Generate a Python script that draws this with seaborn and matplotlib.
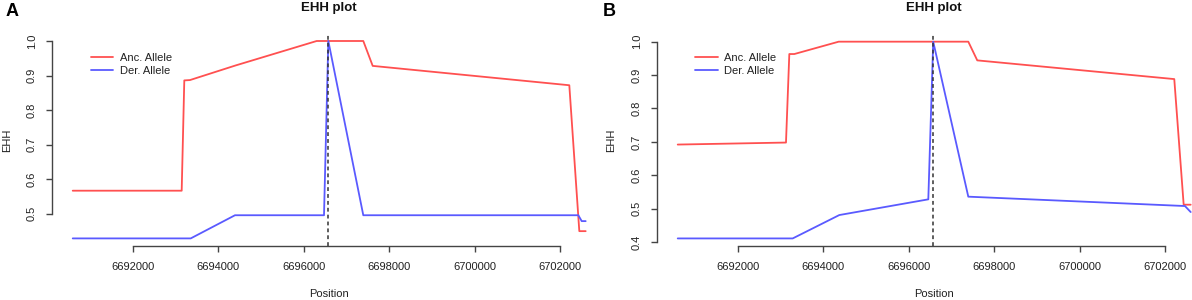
import matplotlib
matplotlib.use("Agg")
import matplotlib.pyplot as plt
import seaborn as sns
import pandas as pd

# ---- data ----
core_pos = 6696576
x_ticks = [6692000, 6694000, 6696000, 6698000, 6700000, 6702000]

a_anc_pos = [6690597, 6693146, 6693207, 6693340, 6694400, 6696304, 6697394, 6697614, 6702213, 6702447, 6702596]
a_anc_ehh = [0.567, 0.567, 0.886, 0.887, 0.929, 1.0, 1.0, 0.928, 0.872, 0.450, 0.450]
a_der_pos = [6690597, 6693357, 6694393, 6696475, 6696576, 6697394, 6702424, 6702503, 6702596]
a_der_ehh = [0.429, 0.429, 0.496, 0.496, 1.0, 0.496, 0.496, 0.479, 0.479]
a_y_ticks = [0.5, 0.6, 0.7, 0.8, 0.9, 1.0]

b_anc_pos = [6690596, 6693130, 6693208, 6693325, 6694364, 6697397, 6697607, 6702218, 6702438, 6702602]
b_anc_ehh = [0.692, 0.698, 0.963, 0.963, 1.0, 1.0, 0.944, 0.888, 0.512, 0.512]
b_der_pos = [6690596, 6693287, 6694378, 6696461, 6696576, 6697397, 6702468, 6702602]
b_der_ehh = [0.411, 0.411, 0.481, 0.528, 1.0, 0.536, 0.508, 0.490]
b_y_ticks = [0.4, 0.5, 0.6, 0.7, 0.8, 0.9, 1.0]

series_labels = ["Anc. Allele", "Der. Allele"]
panel_letters = ["A", "B"]

RED = "#FF5050"
BLUE = "#5A5AFF"
AXC = "#444444"

sns.set_theme(style="white")
plt.rcParams["font.family"] = ["Liberation Sans", "DejaVu Sans"]

W, H = 1192, 300
fig = plt.figure(figsize=(W / 100, H / 100), dpi=100)


def px_rect(left, top, right, bottom):
    return [left / W, 1 - bottom / H, (right - left) / W, (bottom - top) / H]


panels = [
    dict(rect=px_rect(52.2, 33.1, 606.2, 246.3), anc=(a_anc_pos, a_anc_ehh), der=(a_der_pos, a_der_ehh),
         yt=a_y_ticks, letter_x=12, ylab_x=7.5, leg=(90.7, 53.0)),
    dict(rect=px_rect(657.2, 33.8, 1211.2, 246.3), anc=(b_anc_pos, b_anc_ehh), der=(b_der_pos, b_der_ehh),
         yt=b_y_ticks, letter_x=609, ylab_x=611, leg=(695.3, 53.0)),
]

for i, p in enumerate(panels):
    ax = fig.add_axes(p["rect"])
    df_anc = pd.DataFrame({"Position": p["anc"][0], "EHH": p["anc"][1]})
    df_der = pd.DataFrame({"Position": p["der"][0], "EHH": p["der"][1]})
    sns.lineplot(data=df_anc, x="Position", y="EHH", color=RED, lw=1.3, estimator=None,
                 sort=False, label=series_labels[0], ax=ax)
    sns.lineplot(data=df_der, x="Position", y="EHH", color=BLUE, lw=1.3, estimator=None,
                 sort=False, label=series_labels[1], ax=ax)
    ax.margins(x=0.04, y=0.04)
    ax.autoscale_view()
    ax.axvline(core_pos, color="#333333", lw=1.1, ls=(0, (2.5, 2)))
    ax.set_facecolor("none")

    ax.set_xticks(x_ticks)
    ax.set_xticklabels([str(v) for v in x_ticks])
    ax.set_yticks(p["yt"])
    ax.set_yticklabels([f"{v:.1f}" for v in p["yt"]], rotation=90, va="center")

    for s in ["top", "right"]:
        ax.spines[s].set_visible(False)
    for s in ["left", "bottom"]:
        ax.spines[s].set_color(AXC)
        ax.spines[s].set_linewidth(1.0)
    ax.spines["bottom"].set_bounds(x_ticks[0], x_ticks[-1])
    ax.spines["left"].set_bounds(p["yt"][0], p["yt"][-1])
    ax.tick_params(axis="both", direction="out", length=4.5, width=1.0, color=AXC,
                   labelsize=8, labelcolor="#222222", pad=6.5, bottom=True, left=True)
    ax.grid(False)
    ax.set_xlabel("")
    ax.set_ylabel("")

    cx = (p["rect"][0] + min(p["rect"][0] + p["rect"][2], 1.0) * 0 + p["rect"][2] / 2)
    fig.text(cx, 1 - 7.5 / H, "EHH plot", ha="center", va="center", fontsize=9.5,
             fontweight="bold", color="#111111")
    fig.text(cx, 1 - 294 / H, "Position", ha="center", va="center", fontsize=8, color="#222222")
    fig.text(p["ylab_x"] / W, 1 - 140 / H, "EHH", ha="center", va="center", rotation=90,
             fontsize=8, color="#222222")
    fig.text(p["letter_x"] / W, 1 - 12 / H, panel_letters[i], ha="center", va="center",
             fontsize=13, fontweight="bold", color="black")

    lx, ly = p["leg"]
    leg = ax.legend(loc="upper left", bbox_to_anchor=(lx / W, 1 - ly / H),
                    bbox_transform=fig.transFigure, frameon=False, fontsize=8,
                    handlelength=2.0, handletextpad=0.6, labelspacing=0.25,
                    borderpad=0, borderaxespad=0)
    for t in leg.get_texts():
        t.set_color("#222222")

fig.savefig("out.png", dpi=100)
